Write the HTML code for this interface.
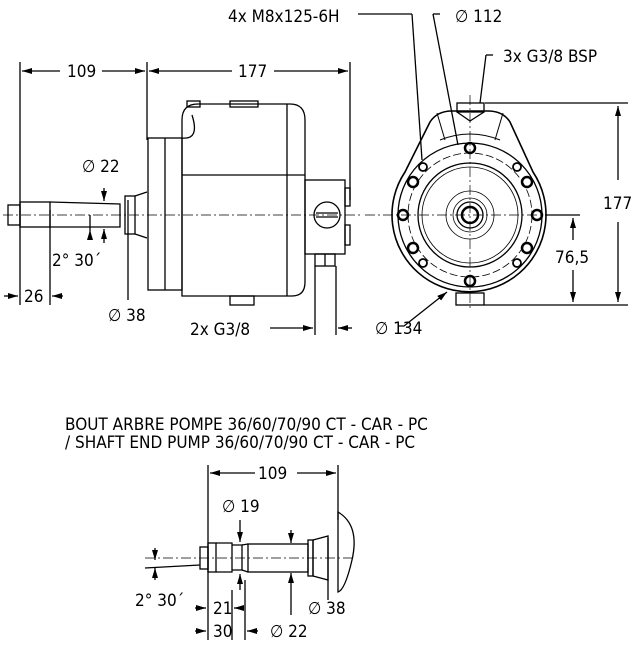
<!DOCTYPE html>
<html><head><style>body{margin:0;background:#fff}svg{display:block}text{font-family:"DejaVu Sans Condensed","DejaVu Sans",sans-serif;font-size:17px;fill:#000}</style></head><body>
<svg width="633" height="648" viewBox="0 0 633 648" xmlns="http://www.w3.org/2000/svg">
<defs><marker id="a" markerWidth="10" markerHeight="6" refX="10" refY="3" orient="auto-start-reverse" markerUnits="userSpaceOnUse"><path d="M0,0L10,3L0,6z"/></marker></defs>
<g stroke="#000" fill="none" stroke-width="1.3">
<!-- top-left dims -->
<line x1="20" y1="62" x2="20" y2="305"/><line x1="147" y1="62" x2="147" y2="140"/><line x1="350" y1="62" x2="350" y2="200"/>
<line x1="22" y1="71" x2="60" y2="71" marker-start="url(#a)"/><line x1="102" y1="71" x2="145" y2="71" marker-end="url(#a)"/>
<line x1="149" y1="71" x2="232" y2="71" marker-start="url(#a)"/><line x1="274" y1="71" x2="348" y2="71" marker-end="url(#a)"/>
<!-- 26 -->
<line x1="4" y1="296" x2="18" y2="296" marker-end="url(#a)"/><line x1="52" y1="296" x2="63" y2="296" marker-start="url(#a)"/><line x1="50" y1="210" x2="50" y2="305"/>
<!-- centerline -->
<line x1="3" y1="215" x2="362" y2="215" stroke-dasharray="10,3,2,3" stroke-width="0.7"/>
<!-- shaft -->
<rect x="8" y="205" width="12" height="20"/><rect x="20" y="202" width="30" height="25"/>
<path d="M50,202 L120,204 L120,227 L50,227"/><rect x="125" y="196" width="10" height="38"/>
<path d="M135,196 L147,192 M135,234 L147,238"/>
<!-- flange & body -->
<rect x="148" y="138" width="34" height="152"/><line x1="165" y1="138" x2="165" y2="290"/>
<path d="M182,138 L182,120 Q182,104 198,104 L290,104 Q305,104 305,120 L305,282 Q305,296 292,296 L182,296 Z"/>
<line x1="182" y1="175" x2="305" y2="175"/><line x1="287" y1="104" x2="287" y2="296"/>
<path d="M182,138 Q200,140 192,115"/>
<rect x="187" y="101" width="13" height="6"/><rect x="230" y="101" width="28" height="6"/>
<rect x="230" y="296" width="24" height="9"/>
<rect x="305" y="180" width="40" height="74"/><rect x="345" y="188" width="5" height="18"/><rect x="345" y="225" width="5" height="20"/>
<circle cx="327" cy="215" r="13"/><line x1="316" y1="213" x2="338" y2="213"/><line x1="316" y1="217" x2="338" y2="217"/>
<rect x="315" y="254" width="20" height="12"/><line x1="325" y1="254" x2="325" y2="266"/>
<line x1="315" y1="266" x2="315" y2="335"/><line x1="336" y1="266" x2="336" y2="335"/>
<line x1="270" y1="328" x2="313" y2="328" marker-end="url(#a)"/><line x1="338" y1="328" x2="352" y2="328" marker-start="url(#a)"/>
<!-- dia22 / 38 / 2°30 -->
<line x1="104" y1="188" x2="104" y2="201" marker-end="url(#a)"/><line x1="104" y1="243" x2="104" y2="229" marker-end="url(#a)"/>
<line x1="90" y1="215" x2="90" y2="230"/><line x1="90" y1="240" x2="90" y2="230" marker-end="url(#a)"/>
<line x1="128" y1="200" x2="128" y2="300"/>
<!-- right view leaders -->
<line x1="358" y1="14" x2="412" y2="14"/><line x1="412" y1="14" x2="422" y2="160"/>
<line x1="433" y1="14" x2="440" y2="14"/><line x1="433" y1="14" x2="458" y2="145"/>
<line x1="493" y1="55" x2="486" y2="55"/><line x1="486" y1="55" x2="480" y2="103"/>
<line x1="365" y1="215" x2="580" y2="215" stroke-dasharray="10,3,2,3" stroke-width="0.7"/>
<line x1="470" y1="95" x2="470" y2="310" stroke-dasharray="10,3,2,3" stroke-width="0.7"/>
<!-- body -->
<path d="M405,172 L430,122 Q437,111 452,111 L488,111 Q503,111 510,122 L533,172 A77,77 0 1 1 405,172 Z" stroke-width="1.6"/>
<path d="M440,140 Q470,128 500,140" stroke-width="1"/>
<path d="M437,113 L445,140 M503,113 L495,140" stroke-width="1"/>
<circle cx="470" cy="215" r="72"/>
<circle cx="470" cy="215" r="62" stroke-dasharray="8,3" stroke-width="0.8"/>
<circle cx="470" cy="215" r="52"/><circle cx="470" cy="215" r="48" stroke-width="0.8"/>
<circle cx="470" cy="215" r="24" stroke-width="0.8"/><circle cx="470" cy="215" r="17" stroke-width="0.8"/><circle cx="470" cy="215" r="13"/><circle cx="470" cy="215" r="8" stroke-width="2.5"/>
<rect x="457" y="103" width="27" height="9"/><rect x="456" y="293" width="28" height="12"/>
<path d="M457,112 L470,121 L484,112"/>
<g stroke-width="2.5">
<circle cx="470" cy="148" r="5"/><circle cx="470" cy="281" r="5"/><circle cx="413" cy="182" r="5"/><circle cx="527" cy="182" r="5"/>
<circle cx="403" cy="215" r="5"/><circle cx="537" cy="215" r="5"/><circle cx="413" cy="248" r="5"/><circle cx="527" cy="248" r="5"/>
</g>
<g stroke-width="1.8"><circle cx="423" cy="167" r="4"/><circle cx="517" cy="167" r="4"/><circle cx="423" cy="263" r="4"/><circle cx="517" cy="263" r="4"/></g>
<line x1="485" y1="103" x2="628" y2="103"/><line x1="484" y1="305" x2="628" y2="305"/><line x1="545" y1="215" x2="580" y2="215"/>
<line x1="618" y1="106" x2="618" y2="180" marker-start="url(#a)"/><line x1="618" y1="222" x2="618" y2="302" marker-end="url(#a)"/>
<line x1="573" y1="218" x2="573" y2="240" marker-start="url(#a)"/><line x1="573" y1="270" x2="573" y2="302" marker-end="url(#a)"/>
<path d="M398,326 L404,326 L447,292" marker-end="url(#a)"/>
<!-- bottom view -->
<line x1="208" y1="465" x2="208" y2="640"/><line x1="338" y1="465" x2="338" y2="520"/>
<line x1="210" y1="473" x2="255" y2="473" marker-start="url(#a)"/><line x1="297" y1="473" x2="336" y2="473" marker-end="url(#a)"/>
<line x1="145" y1="558" x2="355" y2="558" stroke-dasharray="10,3,2,3" stroke-width="0.7"/>
<line x1="145" y1="568" x2="200" y2="565"/>
<rect x="200" y="547" width="8" height="22"/><rect x="208" y="543" width="8" height="29"/>
<path d="M216,543 L232,543 L232,572 L216,572"/><path d="M232,545 L242,545 L242,570 L232,570"/>
<rect x="248" y="544" width="60" height="28"/><path d="M242,545 L248,544 M242,570 L248,572"/>
<path d="M313,540 L328,536 L328,580 L313,576 Z"/><rect x="308" y="540" width="5" height="36"/>
<path d="M338,512 Q360,525 352,560 Q345,590 338,592 Z"/>
<line x1="240" y1="520" x2="240" y2="542" marker-end="url(#a)"/><line x1="240" y1="590" x2="240" y2="574" marker-end="url(#a)"/>
<line x1="291" y1="530" x2="291" y2="543" marker-end="url(#a)"/><line x1="291" y1="615" x2="291" y2="573" marker-end="url(#a)"/>
<line x1="328" y1="538" x2="328" y2="600"/>
<line x1="155" y1="548" x2="155" y2="560" marker-end="url(#a)"/><line x1="155" y1="580" x2="155" y2="568" marker-end="url(#a)"/>
<line x1="232" y1="590" x2="232" y2="640"/><line x1="245" y1="580" x2="245" y2="640"/>
<line x1="195" y1="608" x2="206" y2="608" marker-end="url(#a)"/><line x1="234" y1="608" x2="243" y2="608" marker-start="url(#a)"/>
<line x1="195" y1="631" x2="206" y2="631" marker-end="url(#a)"/><line x1="247" y1="631" x2="258" y2="631" marker-start="url(#a)"/>
</g>
<text x="67" y="77">109</text><text x="238" y="77">177</text><text x="24" y="302">26</text>
<text x="82" y="172">∅ 22</text><text x="108" y="321">∅ 38</text><text x="52" y="266">2° 30´</text>
<text x="190" y="335">2x  G3/8</text>
<text x="228" y="22">4x  M8x125-6H</text><text x="455" y="22">∅ 112</text><text x="503" y="62">3x  G3/8  BSP</text>
<text x="603" y="209">177</text><text x="555" y="263">76,5</text><text x="375" y="334">∅ 134</text>
<text x="65" y="430">BOUT ARBRE POMPE 36/60/70/90 CT - CAR - PC</text>
<text x="65" y="448">/ SHAFT END PUMP 36/60/70/90 CT - CAR - PC</text>
<text x="258" y="479">109</text><text x="222" y="512">∅ 19</text><text x="135" y="606">2° 30´</text>
<text x="213" y="614">21</text><text x="213" y="637">30</text><text x="270" y="637">∅ 22</text><text x="308" y="614">∅ 38</text>
</svg></body></html>
